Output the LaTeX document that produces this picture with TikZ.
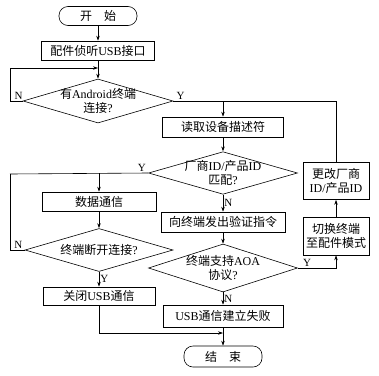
\documentclass[tikz,border=0pt]{standalone}
\usepackage{fontspec}
\setmainfont{Liberation Serif}
\newfontfamily\zhfont{Noto Sans CJK SC}
\newcommand{\zh}[1]{{\zhfont #1}}
\usetikzlibrary{shapes.geometric,arrows.meta}

\begin{document}
\begin{tikzpicture}[x=1pt,y=-1pt,line width=0.6pt,
  font=\fontsize{12}{13.5}\selectfont,
  >={Stealth[length=5pt,width=3.4pt]},
  proc/.style={draw,inner sep=1pt,align=center},
  term/.style={draw,rounded corners=9pt,inner sep=1pt,minimum width=78pt,minimum height=19pt},
  decision/.style={draw,diamond,aspect=3.3,inner sep=-2pt,align=center},
  lbl/.style={inner sep=1pt,font=\fontsize{11}{12}\selectfont}]
  \useasboundingbox (0,0) rectangle (379,375);

  % left column
  \node[term] (start) at (98,16) {\zh{开\hspace{1em}始}};
  \node[proc,minimum width=113pt,minimum height=19pt] (listen) at (98,50.5) {\zh{配件侦听}USB\zh{接口}};
  \node[decision,minimum width=150pt,minimum height=44pt] (dAndroid) at (98,101) {\zh{有}Android\zh{终端}\\\zh{连接}?};
  \node[proc,minimum width=114pt,minimum height=19pt] (data) at (99,201.5) {\zh{数据通信}};
  \node[decision,minimum width=148pt,minimum height=43pt] (dDisc) at (99,250) {\zh{终端断开连接}?};
  \node[proc,minimum width=112pt,minimum height=18pt] (close) at (99,296) {\zh{关闭}USB\zh{通信}};

  % middle column
  \node[proc,minimum width=121pt,minimum height=20pt] (read) at (223,127) {\zh{读取设备描述符}};
  \node[decision,minimum width=149pt,minimum height=40pt] (dMatch) at (223,173) {\zh{厂商}ID/\zh{产品}ID\\\zh{匹配}?};
  \node[proc,minimum width=124pt,minimum height=20pt] (verify) at (223,222) {\zh{向终端发出验证指令}};
  \node[decision,minimum width=149pt,minimum height=48pt] (dAOA) at (223,268) {\zh{终端支持}AOA\\\zh{协议}?};
  \node[proc,minimum width=120pt,minimum height=22pt] (fail) at (223,316) {USB\zh{通信建立失败}};
  \node[term,minimum height=21pt] (end) at (223,356.5) {\zh{结\hspace{1em}束}};

  % right column
  \node[proc,minimum width=66pt,minimum height=37pt] (change) at (336,181) {\zh{更改厂商}\\ID/\zh{产品}ID};
  \node[proc,minimum width=66pt,minimum height=38pt] (switch) at (336,236) {\zh{切换终端}\\\zh{至配件模式}};

  % joints
  \coordinate (loopA) at (10,68);
  \coordinate (joinA) at (98,68);
  \coordinate (joinB) at (223,101);
  \coordinate (loopC) at (10,174);
  \coordinate (joinD) at (223,333);

  \draw[->] (start) -- (listen);
  \draw[->] (listen) -- (dAndroid);
  \draw[->] (dAndroid.west) -| (loopA) -- (joinA);
  \node[lbl,anchor=south] (nA) at ([xshift=-4pt]dAndroid.west) {N};
  \draw (dAndroid.east) -- (joinB);
  \node[lbl,anchor=south west] (yA) at ([xshift=2pt]dAndroid.east) {Y};
  \draw[->] (joinB) -- (read);
  \draw (change.north) |- (joinB);

  \draw[->] (read) -- (dMatch);
  \draw (dMatch.west) -- (loopC);
  \node[lbl,anchor=south east] (yB) at ([xshift=-1pt]dMatch.west) {Y};
  \draw[->] (data.north |- dMatch.west) -- (data);
  \draw[->] (data) -- (dDisc);
  \draw (dDisc.west) -| (loopC);
  \node[lbl,anchor=south east] (nB) at ([xshift=-1pt]dDisc.west) {N};
  \draw[->] (dDisc) -- node[lbl,right] (yC) {Y} (close);
  \draw[->] (close.south) |- (joinD);

  \draw[->] (dMatch) -- node[lbl,right] (nC) {N} (verify);
  \draw[->] (verify) -- (dAOA);
  \draw[->] (dAOA) -- node[lbl,right] (nD) {N} (fail);
  \draw[->] (fail) -- (end);
  \draw[->] (dAOA.east) -| node[lbl,pos=0.12,above] (yD) {Y} (switch.south);
  \draw[->] (switch) -- (change);
\end{tikzpicture}
\end{document}
